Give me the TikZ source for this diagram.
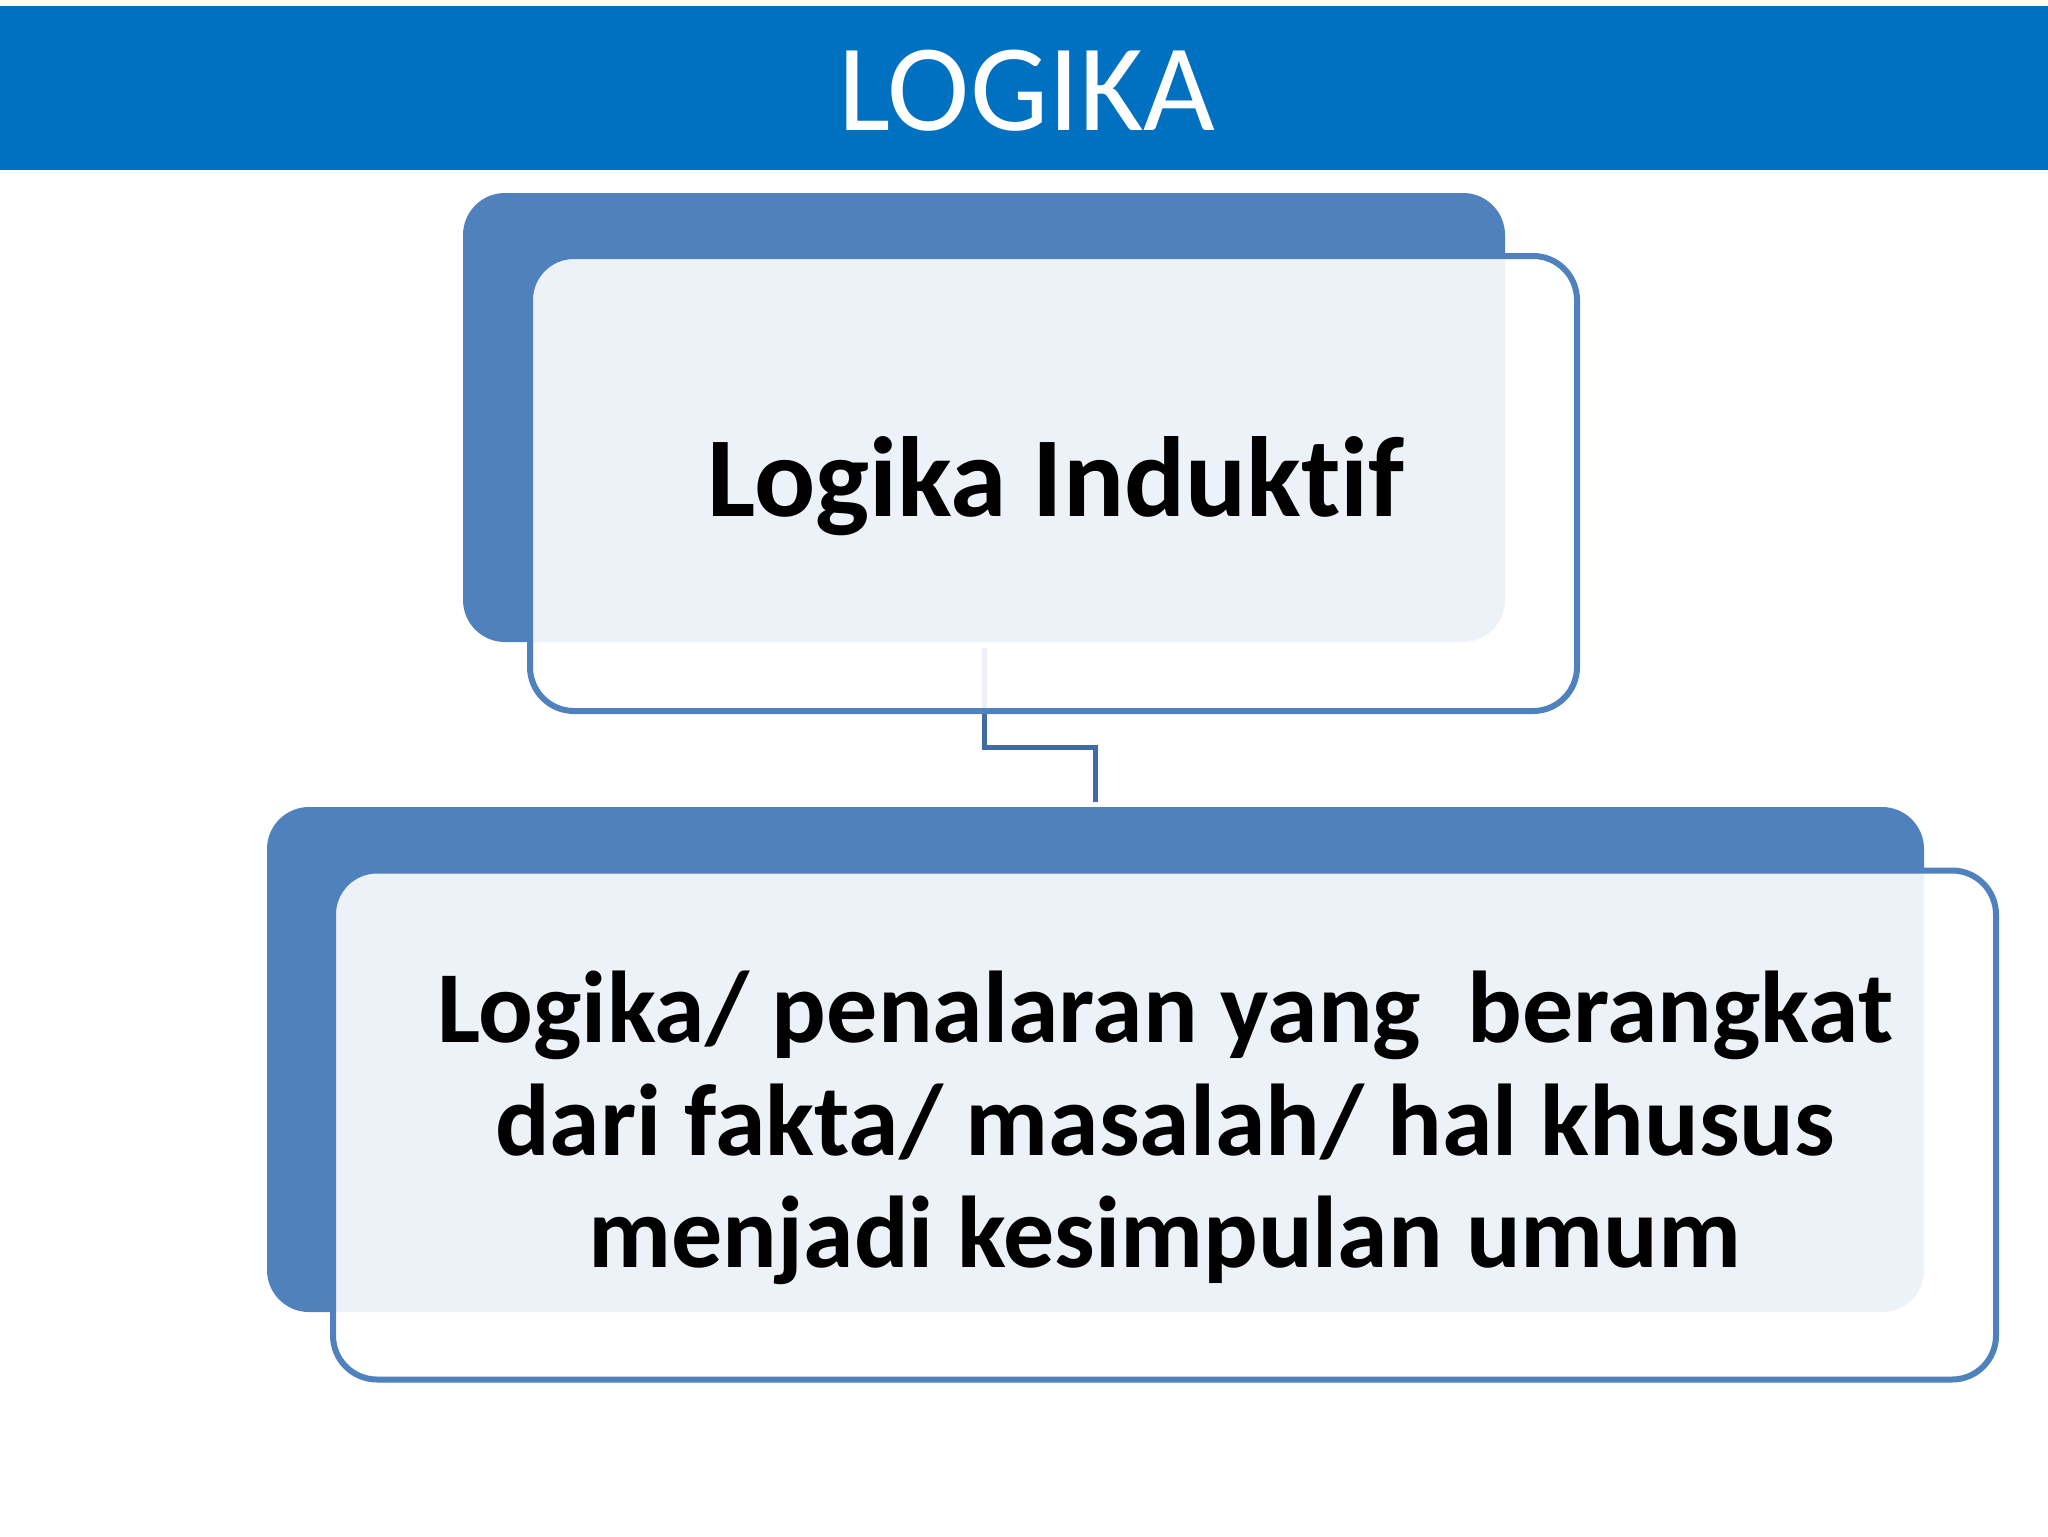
\documentclass[tikz,border=0pt]{standalone}
\usepackage{fontspec}
\setmainfont{Carlito}[Ligatures={NoCommon}]
\definecolor{banner}{HTML}{0070C0}
\definecolor{accent}{HTML}{4F81BD}
\definecolor{conn}{HTML}{3F6CA3}
\begin{document}
\begin{tikzpicture}[x=0.5pt,y=-0.5pt,
  backbox/.style={rectangle, fill=accent, rounded corners=21pt, inner sep=0pt, outer sep=0pt},
  frontbox/.style={rectangle, draw=accent, line width=3pt, fill=white, fill opacity=0.9, rounded corners=22pt, inner sep=0pt, outer sep=0pt},
  link/.style={draw=conn, line width=2.5pt},
  headtext/.style={font=\bfseries\fontsize{57pt}{57pt}\selectfont, text=black, inner sep=0pt, anchor=base},
  boxtext/.style={font=\bfseries\fontsize{51pt}{51pt}\selectfont, text=black, inner sep=0pt, anchor=base}]
\path[use as bounding box, fill=white] (0,0) rectangle (2048,1536);
\node[fill=banner, minimum width=1024pt, minimum height=81.75pt, inner sep=0pt, outer sep=0pt, anchor=north west] (banner) at (0,6.5) {};
\node[font=\fontsize{62pt}{62pt}\selectfont, text=white, anchor=base, inner sep=0pt] (title) at (1027,130) {LOGIKA};
\node[backbox, minimum width=521pt, minimum height=224.5pt] (back1) at (984,417.5) {};
\node[backbox, minimum width=828.5pt, minimum height=252.5pt] (back2) at (1095.5,1059.5) {};
\draw[link, shorten <=3pt, shorten >=2.5pt] (back1.south) -- ++(0,105) -| (back2.north);
\node[frontbox, minimum width=523.5pt, minimum height=227.5pt] (front1) at (1053.5,483.5) {};
\node[frontbox, minimum width=831.5pt, minimum height=254.5pt] (front2) at (1164.5,1125) {};
\node[headtext] (t1) at (1056,516) {Logika Induktif};
\node[boxtext] (l1) at (1165,1042) {Logika/ penalaran yang~ berangkat};
\node[boxtext] (l2) at (1165,1155) {dari fakta/ masalah/ hal khusus};
\node[boxtext] (l3) at (1165,1267) {menjadi kesimpulan umum};
\end{tikzpicture}
\end{document}
